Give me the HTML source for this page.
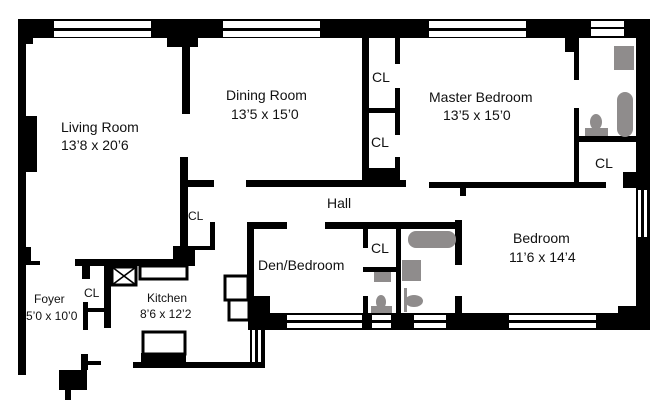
<!DOCTYPE html>
<html><head><style>
html,body{margin:0;padding:0;background:#fff;}
svg{display:block;}
text{font-family:"Liberation Sans",sans-serif;fill:#111;}
</style></head><body>
<svg width="672" height="415" viewBox="0 0 672 415" xmlns="http://www.w3.org/2000/svg">
<g fill="#000">
<rect x="18" y="19" width="632" height="19"/>
<rect x="18" y="19" width="15" height="25"/>
<rect x="167" y="38" width="31" height="9"/>
<rect x="182" y="47" width="8" height="67"/>
<rect x="18" y="19" width="8" height="356"/>
<rect x="18" y="116" width="19" height="56"/>
<rect x="26" y="247" width="5" height="18"/>
<rect x="26" y="261" width="14" height="4"/>
<rect x="180" y="157" width="8" height="100"/>
<rect x="173" y="246" width="22" height="17"/>
<rect x="188" y="180" width="26" height="7"/>
<rect x="210" y="222" width="5" height="28"/>
<rect x="188" y="246" width="27" height="4"/>
<rect x="246" y="180" width="160" height="7"/>
<rect x="429" y="182" width="177" height="6"/>
<rect x="460" y="187" width="6" height="9"/>
<rect x="623" y="172" width="20" height="16"/>
<rect x="362" y="38" width="7" height="144"/>
<rect x="362" y="168" width="37" height="14"/>
<rect x="395" y="38" width="5" height="26"/>
<rect x="395" y="88" width="5" height="47"/>
<rect x="395" y="157" width="5" height="25"/>
<rect x="367" y="108" width="30" height="5"/>
<rect x="574" y="38" width="5" height="42"/>
<rect x="574" y="108" width="5" height="74"/>
<rect x="565" y="38" width="14" height="14"/>
<rect x="578" y="136" width="62" height="6"/>
<rect x="636" y="19" width="14" height="311"/>
<rect x="618" y="306" width="32" height="24"/>
<rect x="250" y="313" width="400" height="17"/>
<rect x="75" y="259" width="120" height="7"/>
<rect x="82" y="266" width="8" height="13"/>
<rect x="104" y="266" width="7" height="62"/>
<rect x="83" y="302" width="5" height="28"/>
<rect x="88" y="308" width="19" height="4"/>
<rect x="133" y="362" width="132" height="6"/>
<rect x="141" y="353" width="45" height="9"/>
<rect x="59" y="370" width="28" height="20"/>
<rect x="65" y="388" width="6" height="12"/>
<rect x="81" y="354" width="7" height="16"/>
<rect x="88" y="361" width="13" height="4"/>
<rect x="247" y="222" width="7" height="80"/>
<rect x="247" y="222" width="40" height="7"/>
<rect x="325" y="222" width="137" height="7"/>
<rect x="455" y="220" width="7" height="45"/>
<rect x="455" y="296" width="7" height="18"/>
<rect x="248" y="296" width="22" height="34"/>
<rect x="250" y="328" width="15" height="35"/>
<rect x="363" y="229" width="5" height="19"/>
<rect x="363" y="296" width="5" height="18"/>
<rect x="363" y="267" width="35" height="5"/>
<rect x="396" y="229" width="5" height="85"/>
</g>
<g fill="#fff" stroke="#000" stroke-width="3">
<rect x="112" y="267" width="24" height="18"/>
<rect x="140" y="266" width="47" height="13"/>
<rect x="143" y="332" width="42" height="22"/>
<rect x="225" y="276" width="23" height="24"/>
<rect x="229" y="300" width="20" height="20"/>
</g>
<path d="M112 267 L136 285 M136 267 L112 285" stroke="#000" stroke-width="1.5"/>
<g fill="#fff">
<rect x="54" y="21" width="97" height="7"/><rect x="54" y="31" width="97" height="6"/>
<rect x="223" y="21" width="97" height="7"/><rect x="223" y="31" width="97" height="6"/>
<rect x="429" y="21" width="97" height="7"/><rect x="429" y="31" width="97" height="6"/>
<rect x="591" y="21" width="33" height="6"/><rect x="591" y="29" width="33" height="7"/>
<rect x="287" y="315" width="75" height="5"/><rect x="287" y="323" width="75" height="5"/>
<rect x="372" y="315" width="19" height="5"/><rect x="372" y="323" width="19" height="5"/>
<rect x="414" y="315" width="32" height="5"/><rect x="414" y="323" width="32" height="5"/>
<rect x="509" y="315" width="87" height="5"/><rect x="509" y="323" width="87" height="5"/>
<rect x="638" y="190" width="3" height="47"/><rect x="644" y="190" width="3" height="47"/>
<rect x="252" y="330" width="3" height="32"/><rect x="258" y="330" width="3" height="32"/>
</g>
<g fill="#8f8c8c">
<rect x="614" y="46" width="20" height="24"/>
<rect x="617" y="92" width="16" height="45" rx="8"/>
<rect x="585" y="128" width="23" height="8"/>
<ellipse cx="596" cy="122" rx="6" ry="8"/>
<rect x="408" y="231" width="48" height="17" rx="8"/>
<rect x="402" y="260" width="19" height="21"/>
<rect x="404" y="288" width="3" height="24"/>
<ellipse cx="414" cy="301" rx="9" ry="6"/>
<rect x="374" y="272" width="17" height="10"/>
<rect x="371" y="306" width="21" height="7"/>
<ellipse cx="381" cy="302" rx="5" ry="7"/>
</g>
<g font-size="14">
<text x="61" y="132">Living Room</text>
<text x="61" y="150">13’8 x 20’6</text>
<text x="226" y="100">Dining Room</text>
<text x="231" y="119">13’5 x 15’0</text>
<text x="429" y="102">Master Bedroom</text>
<text x="443" y="120">13’5 x 15’0</text>
<text x="327" y="208">Hall</text>
<text x="258" y="270">Den/Bedroom</text>
<text x="513" y="243">Bedroom</text>
<text x="509" y="262">11’6 x 14’4</text>
<text x="372" y="82">CL</text>
<text x="371" y="147">CL</text>
<text x="595" y="168">CL</text>
<text x="371" y="253">CL</text>
</g>
<g font-size="12">
<text x="188" y="220">CL</text>
<text x="84" y="297">CL</text>
<text x="34" y="303">Foyer</text>
<text x="26" y="320">5’0 x 10’0</text>
<text x="147" y="302">Kitchen</text>
<text x="140" y="318">8’6 x 12’2</text>
</g>
</svg>
</body></html>
